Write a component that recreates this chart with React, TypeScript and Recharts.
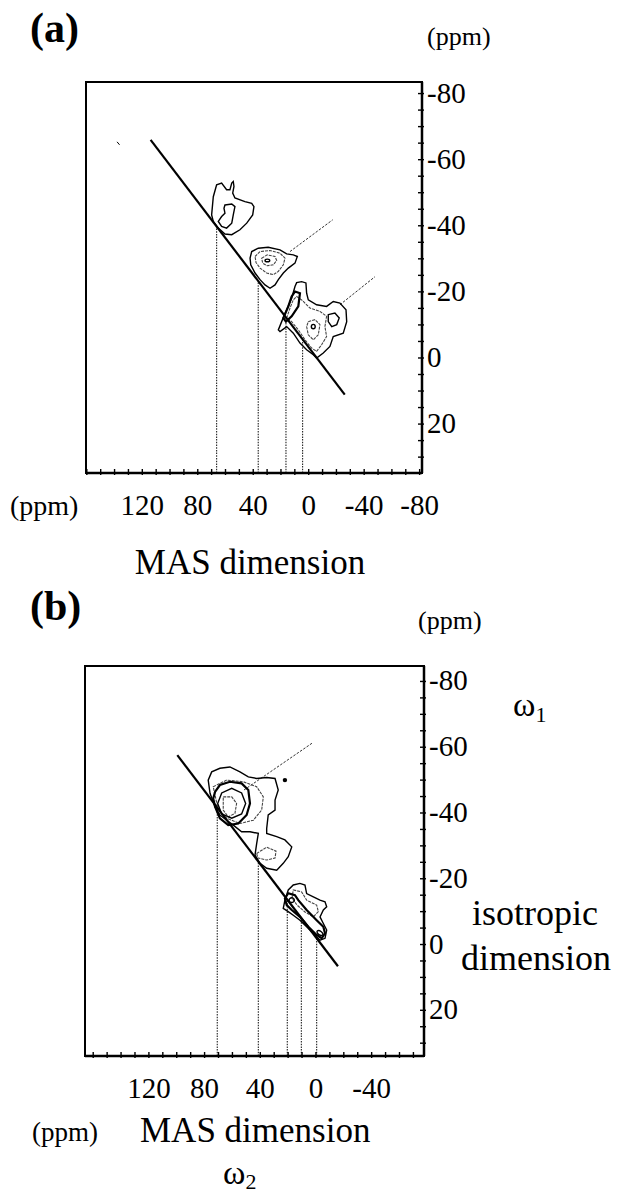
import React from "react";
import {
  ComposedChart,
  Line,
  Scatter,
  XAxis,
  YAxis,
  ReferenceArea,
} from "recharts";

type Pt = [number, number];

const SERIF = '"Liberation Serif", "Times New Roman", serif';

// ---------- panel (a) ----------
const aXDomain: Pt = [-81.7, 160.6];
const aYDomain: Pt = [-83.5, 34.8];
const aXTicks = [160, 150, 140, 130, 120, 110, 100, 90, 80, 70, 60, 50, 40, 30, 20, 10, 0, -10, -20, -30, -40, -50, -60, -70, -80];
const aXLabels = [120, 80, 40, 0, -40, -80];
const aYTicks = [-80, -75, -70, -65, -60, -55, -50, -45, -40, -35, -30, -25, -20, -15, -10, -5, 0, 5, 10, 15, 20, 25, 30];
const aYLabels = [-80, -60, -40, -20, 0, 20];
const aDiagonal: Pt[] = [[114, -66], [-26, 11.1]];
const aDrops = [66.4, 36.4, 16.4, 4.4];
const aGuide1: Pt[] = [[13.5, -32.2], [-17.3, -41.8]];
const aGuide2: Pt[] = [[-22.5, -16.1], [-47.8, -24.6]];
const aSpeck: Pt[] = [[138.2, -65.4], [136.4, -64.5]];

const aPeak1Outer: Pt[] = [[70.0, -43.3], [68.8, -48.8], [66.4, -52.4], [62.8, -52.9], [59.2, -50.9], [56.8, -50.9], [55.5, -52.9], [54.4, -53.4], [53.9, -51.9], [54.8, -49.9], [53.2, -48.4], [46.0, -47.3], [41.1, -46.8], [39.5, -45.8], [40.4, -43.3], [44.7, -40.8], [49.6, -38.8], [55.5, -37.3], [60.4, -37.5], [65.2, -39.3], [68.8, -41.3]];
const aPeak1Inner: Pt[] = [[60.4, -46.3], [55.5, -46.6], [53.2, -45.8], [54.4, -43.3], [55.5, -40.8], [59.2, -39.3], [62.8, -39.8], [65.2, -41.3], [62.8, -42.8], [60.4, -43.8], [61.1, -45.3]];
const aPeak2Outer: Pt[] = [[42.3, -30.2], [41.1, -32.2], [36.4, -33.2], [29.2, -33.5], [20.7, -32.7], [15.9, -31.5], [11.1, -31.2], [8.2, -30.7], [9.9, -28.7], [14.7, -27.2], [18.3, -25.7], [21.9, -23.7], [24.3, -22.1], [27.9, -21.1], [31.5, -22.1], [35.1, -23.7], [38.7, -25.7], [41.8, -28.2]];
const aPeak2Mid: Pt[] = [[38.7, -30.7], [35.1, -32.2], [27.9, -32.5], [20.7, -31.7], [17.1, -30.2], [18.3, -28.2], [21.9, -26.2], [25.5, -25.2], [30.3, -25.7], [35.1, -27.2], [38.0, -28.9]];
const aPeak2Inner: Pt[] = [[33.9, -30.2], [29.9, -31.2], [24.3, -30.7], [23.1, -29.5], [25.5, -28.2], [29.9, -27.9], [33.2, -28.7]];
const aPeak2Core: Pt[] = [[32.3, -29.5], [29.9, -30.1], [27.2, -29.5], [29.9, -28.9]];
const aPeak3Outer: Pt[] = [[9.9, -21.6], [8.7, -22.8], [5.1, -23.1], [2.0, -22.7], [1.5, -19.6], [0.3, -17.6], [-5.7, -16.1], [-12.9, -15.6], [-17.7, -17.1], [-22.5, -16.6], [-26.9, -14.6], [-27.4, -11.0], [-24.9, -7.5], [-17.7, -6.5], [-15.3, -3.5], [-10.5, -1.5], [-5.7, 0.0], [-3.3, -1.0], [1.5, -2.5], [6.3, -4.5], [11.1, -7.5], [15.9, -9.5], [20.7, -8.0], [21.9, -8.5], [19.5, -11.0], [15.9, -14.6], [12.3, -18.1]];
const aPeak3Hole: Pt[] = [[-14.1, -13.1], [-18.9, -13.6], [-22.0, -12.1], [-20.2, -10.1], [-16.6, -9.5], [-14.1, -11.0]];
const aPeak3Mid: Pt[] = [[8.7, -18.6], [5.1, -17.6], [-0.9, -15.1], [-8.1, -14.1], [-12.9, -12.6], [-11.7, -9.5], [-12.9, -6.5], [-9.3, -4.0], [-5.7, -2.0], [-2.1, -3.0], [2.7, -5.5], [7.5, -8.5], [12.3, -11.0], [15.9, -12.1], [13.5, -15.1], [11.1, -17.6]];
const aPeak3Ridge: Pt[] = [[9.9, -20.1], [6.3, -19.6], [7.5, -15.6], [12.3, -12.6], [16.4, -11.0], [18.3, -12.1], [14.7, -15.6], [12.3, -18.6]];
const aPeak3Inner: Pt[] = [[0.3, -11.0], [-4.5, -11.6], [-8.1, -10.1], [-6.9, -7.0], [-3.3, -5.5], [0.3, -7.0], [1.5, -9.5]];
const aPeak3Core: Pt[] = [[-1.2, -9.5], [-3.3, -10.5], [-5.4, -9.5], [-3.3, -8.5]];

// ---------- panel (b) ----------
const bXDomain: Pt = [-77.6, 165.9];
const bYDomain: Pt = [-84.7, 33.9];
const bXTicks = [160, 150, 140, 130, 120, 110, 100, 90, 80, 70, 60, 50, 40, 30, 20, 10, 0, -10, -20, -30, -40, -50, -60, -70];
const bXLabels = [120, 80, 40, 0, -40];
const bYTicks = [-80, -75, -70, -65, -60, -55, -50, -45, -40, -35, -30, -25, -20, -15, -10, -5, 0, 5, 10, 15, 20, 25, 30];
const bYLabels = [-80, -60, -40, -20, 0, 20];
const bDiagonal: Pt[] = [[99.6, -57.6], [-15.8, 6.6]];
const bDrops = [70.9, 41.4, 20.6, 10.5, -0.5];
const bGuide: Pt[] = [[51.7, -47.0], [2.9, -61.2]];
const bDot: Pt[] = [[22.3, -50.0]];

const bPeak1Outer: Pt[] = [[76.1, -46.0], [77.4, -50.0], [74.9, -52.5], [69.0, -53.6], [61.8, -54.0], [54.6, -52.5], [48.6, -51.0], [42.6, -50.5], [35.4, -50.8], [29.4, -50.5], [27.1, -47.0], [29.4, -43.9], [29.4, -40.9], [34.3, -39.4], [35.4, -35.3], [35.4, -33.8], [28.2, -32.8], [22.3, -31.8], [17.4, -29.7], [19.9, -26.7], [23.5, -24.7], [28.2, -22.6], [35.4, -23.2], [40.2, -24.7], [43.8, -27.2], [42.6, -30.7], [41.4, -33.8], [47.4, -34.3], [53.4, -34.3], [59.4, -36.3], [64.1, -37.8], [69.0, -39.4], [72.5, -41.9]];
const bPeak1Gray: Pt[] = [[73.8, -48.0], [64.1, -50.0], [52.2, -49.5], [42.6, -48.0], [37.8, -44.9], [39.0, -40.9], [45.0, -37.8], [54.6, -36.8], [64.1, -38.4], [70.2, -40.9]];
const bPeak1Ring: Pt[] = [[72.5, -46.4], [69.0, -48.5], [61.8, -49.5], [53.4, -49.0], [48.6, -47.0], [47.4, -42.9], [49.8, -39.4], [55.8, -36.8], [63.0, -36.3], [69.0, -38.4], [72.5, -41.9], [73.8, -44.4]];
const bPeak1Circle: Pt[] = [[50.5, -42.9], [53.4, -46.1], [60.5, -47.5], [67.7, -46.1], [70.6, -42.9], [67.7, -39.7], [60.5, -38.4], [53.4, -39.7]];
const bPeak1Core: Pt[] = [[66.6, -44.9], [60.5, -44.9], [57.0, -42.9], [58.2, -39.9], [63.0, -38.8], [66.6, -40.9]];
const bPeak1Lobe: Pt[] = [[42.6, -27.7], [35.4, -29.6], [28.7, -28.4], [29.4, -26.3], [35.4, -25.7], [41.7, -26.3]];
const bPeak2Outer: Pt[] = [[22.3, -13.5], [19.9, -16.6], [16.3, -18.1], [11.5, -18.6], [7.9, -18.1], [6.7, -15.5], [1.9, -14.5], [-2.9, -13.5], [-6.5, -13.0], [-7.7, -11.5], [-5.3, -10.5], [-2.9, -8.4], [-5.3, -6.4], [-7.7, -4.4], [-6.5, -1.9], [-2.9, -1.3], [1.9, -3.4], [6.7, -5.4], [11.5, -7.4], [16.3, -8.9], [19.9, -10.0], [23.5, -11.0]];
const bPeak2Gray: Pt[] = [[16.3, -16.6], [10.3, -16.0], [6.7, -13.5], [-0.5, -12.0], [-1.7, -10.0], [1.9, -8.4], [7.9, -9.9], [13.6, -12.0], [17.2, -14.1]];
const bPeak2Tail: Pt[] = [[22.3, -14.0], [19.9, -15.6], [15.1, -15.0], [12.7, -13.5], [6.7, -10.5], [-0.5, -7.4], [-5.3, -5.4], [-6.5, -3.4], [-4.1, -1.9], [-0.5, -2.9], [5.5, -5.4], [11.5, -8.4], [17.4, -10.5], [21.0, -12.0]];
const bPeak2Head: Pt[] = [[20.3, -13.5], [17.4, -14.6], [14.6, -13.5], [17.4, -12.4]];
const bPeak2Tip: Pt[] = [[0.0, -4.4], [-4.3, -4.1], [-5.8, -2.6], [-1.4, -2.9]];

const rows = (pts: Pt[]) => pts.map(([x, y]) => ({ x, y }));

function yOnLine(line: Pt[], x: number) {
  const [[x0, y0], [x1, y1]] = line;
  return y0 + ((x - x0) * (y1 - y0)) / (x1 - x0);
}

function xTick(labels: number[]) {
  return (props: any) => {
    const { x, y, payload } = props;
    return (
      <g>
        <line x1={x} x2={x} y1={y - 4} y2={y + 2} stroke="#000" strokeWidth={1.4} />
        {labels.includes(payload.value) && (
          <text x={x} y={y + 42} textAnchor="middle" fontSize={29} style={{ fontFamily: SERIF }} fill="#000">
            {payload.value}
          </text>
        )}
      </g>
    );
  };
}

function yTick(labels: number[]) {
  return (props: any) => {
    const { x, y, payload } = props;
    return (
      <g>
        <line x1={x - 4} x2={x + 2} y1={y} y2={y} stroke="#000" strokeWidth={1.4} />
        {labels.includes(payload.value) && (
          <text x={x + 5} y={y + 9} textAnchor="start" fontSize={29} style={{ fontFamily: SERIF }} fill="#000">
            {payload.value}
          </text>
        )}
      </g>
    );
  };
}

interface PanelProps {
  top: number;
  height: number;
  margin: { top: number; right: number; bottom: number; left: number };
  xDomain: Pt;
  yDomain: Pt;
  xTicks: number[];
  xLabels: number[];
  yTicks: number[];
  yLabels: number[];
  diagonal: Pt[];
  drops: number[];
  guides: Pt[][];
  solid: Pt[][];
  gray: Pt[][];
  heavy: Pt[][];
  round: Pt[][];
  specks: Pt[][];
  dots: Pt[];
}

function Panel(p: PanelProps) {
  const dropRows = p.drops.map((x) => [
    { x, y: p.yDomain[1] },
    { x, y: yOnLine(p.diagonal, x) },
  ]);
  return (
    <div style={{ position: "absolute", left: 0, top: p.top }}>
      <ComposedChart width={621} height={p.height} margin={p.margin}>
        <XAxis
          type="number"
          dataKey="x"
          domain={p.xDomain}
          reversed
          allowDataOverflow
          ticks={p.xTicks}
          interval={0}
          tickSize={0}
          tickMargin={0}
          height={50}
          tickLine={false}
          axisLine={{ stroke: "#000", strokeWidth: 2.5 }}
          tick={xTick(p.xLabels)}
        />
        <YAxis
          type="number"
          orientation="right"
          domain={p.yDomain}
          reversed
          allowDataOverflow
          ticks={p.yTicks}
          interval={0}
          tickSize={0}
          tickMargin={0}
          width={60}
          tickLine={false}
          axisLine={{ stroke: "#000", strokeWidth: 2.5 }}
          tick={yTick(p.yLabels)}
        />
        <ReferenceArea
          x1={p.xDomain[0]}
          x2={p.xDomain[1]}
          y1={p.yDomain[0]}
          y2={p.yDomain[1]}
          fill="none"
          fillOpacity={0}
          stroke="#000"
          strokeWidth={2}
          ifOverflow="visible"
        />
        {dropRows.map((d, i) => (
          <Line key={`drop${i}`} data={d} dataKey="y" type="linear" stroke="#222" strokeWidth={1.1}
            strokeDasharray="1.5 1.2" dot={false} activeDot={false} isAnimationActive={false} />
        ))}
        {p.guides.map((g, i) => (
          <Line key={`guide${i}`} data={rows(g)} dataKey="y" type="linear" stroke="#333" strokeWidth={1}
            strokeDasharray="2.5 1.5" dot={false} activeDot={false} isAnimationActive={false} />
        ))}
        {p.gray.map((c, i) => (
          <Line key={`gray${i}`} data={rows(c)} dataKey="y" type="linearClosed" stroke="#444" strokeWidth={1.1}
            strokeDasharray="3 1" dot={false} activeDot={false} isAnimationActive={false} />
        ))}
        {p.solid.map((c, i) => (
          <Line key={`solid${i}`} data={rows(c)} dataKey="y" type="linearClosed" stroke="#000" strokeWidth={1.4}
            dot={false} activeDot={false} isAnimationActive={false} />
        ))}
        {p.heavy.map((c, i) => (
          <Line key={`heavy${i}`} data={rows(c)} dataKey="y" type="linearClosed" stroke="#000" strokeWidth={2.2}
            dot={false} activeDot={false} isAnimationActive={false} />
        ))}
        {p.round.map((c, i) => (
          <Line key={`round${i}`} data={rows(c)} dataKey="y" type="basisClosed" stroke="#000" strokeWidth={1.4}
            dot={false} activeDot={false} isAnimationActive={false} />
        ))}
        {p.specks.map((c, i) => (
          <Line key={`speck${i}`} data={rows(c)} dataKey="y" type="linear" stroke="#000" strokeWidth={1}
            dot={false} activeDot={false} isAnimationActive={false} />
        ))}
        <Line data={rows(p.diagonal)} dataKey="y" type="linear" stroke="#000" strokeWidth={2.2}
          dot={false} activeDot={false} isAnimationActive={false} />
        {p.dots.length > 0 && (
          <Scatter data={rows(p.dots)} dataKey="y" fill="#000" isAnimationActive={false}
            shape={(s: any) => <circle cx={s.cx} cy={s.cy} r={2.2} fill="#000" />} />
        )}
      </ComposedChart>
    </div>
  );
}

export default function App() {
  return (
    <div style={{ position: "absolute", left: 0, top: 0, width: 621, height: 1199, background: "#fff" }}>
      <Panel
        top={0}
        height={600}
        margin={{ top: 82, right: 139, bottom: 77, left: 86 }}
        xDomain={aXDomain}
        yDomain={aYDomain}
        xTicks={aXTicks}
        xLabels={aXLabels}
        yTicks={aYTicks}
        yLabels={aYLabels}
        diagonal={aDiagonal}
        drops={aDrops}
        guides={[aGuide1, aGuide2]}
        solid={[aPeak1Outer, aPeak1Inner, aPeak2Outer, aPeak3Outer, aPeak3Hole]}
        gray={[aPeak2Mid, aPeak2Inner, aPeak3Mid, aPeak3Inner]}
        heavy={[aPeak3Ridge]}
        round={[aPeak2Core, aPeak3Core]}
        specks={[aSpeck]}
        dots={[]}
      />
      <Panel
        top={600}
        height={599}
        margin={{ top: 66, right: 137, bottom: 93, left: 85 }}
        xDomain={bXDomain}
        yDomain={bYDomain}
        xTicks={bXTicks}
        xLabels={bXLabels}
        yTicks={bYTicks}
        yLabels={bYLabels}
        diagonal={bDiagonal}
        drops={bDrops}
        guides={[bGuide]}
        solid={[bPeak1Outer, bPeak1Circle, bPeak2Outer]}
        gray={[bPeak1Gray, bPeak1Core, bPeak1Lobe, bPeak2Gray]}
        heavy={[bPeak1Ring, bPeak2Tail]}
        round={[bPeak2Head, bPeak2Tip]}
        specks={[]}
        dots={bDot}
      />
      <svg width={621} height={1199} style={{ position: "absolute", left: 0, top: 0, pointerEvents: "none", fontFamily: SERIF }}
        fill="#000">
        <text x={30} y={42} fontSize={42} fontWeight="bold">(a)</text>
        <text x={427} y={45} fontSize={26}>(ppm)</text>
        <text x={10} y={515} fontSize={28}>(ppm)</text>
        <text x={250} y={574} fontSize={35} textAnchor="middle">MAS dimension</text>
        <text x={30} y={620} fontSize={42} fontWeight="bold">(b)</text>
        <text x={418} y={629} fontSize={26}>(ppm)</text>
        <text x={513} y={716} fontSize={34}>
          ω<tspan fontSize={22} dy={6}>1</tspan>
        </text>
        <text x={472} y={925} fontSize={36}>isotropic</text>
        <text x={461} y={970} fontSize={36}>dimension</text>
        <text x={32} y={1141} fontSize={27}>(ppm)</text>
        <text x={140} y={1142} fontSize={35}>MAS dimension</text>
        <text x={223} y={1184} fontSize={34}>
          ω<tspan fontSize={22} dy={5}>2</tspan>
        </text>
      </svg>
    </div>
  );
}
